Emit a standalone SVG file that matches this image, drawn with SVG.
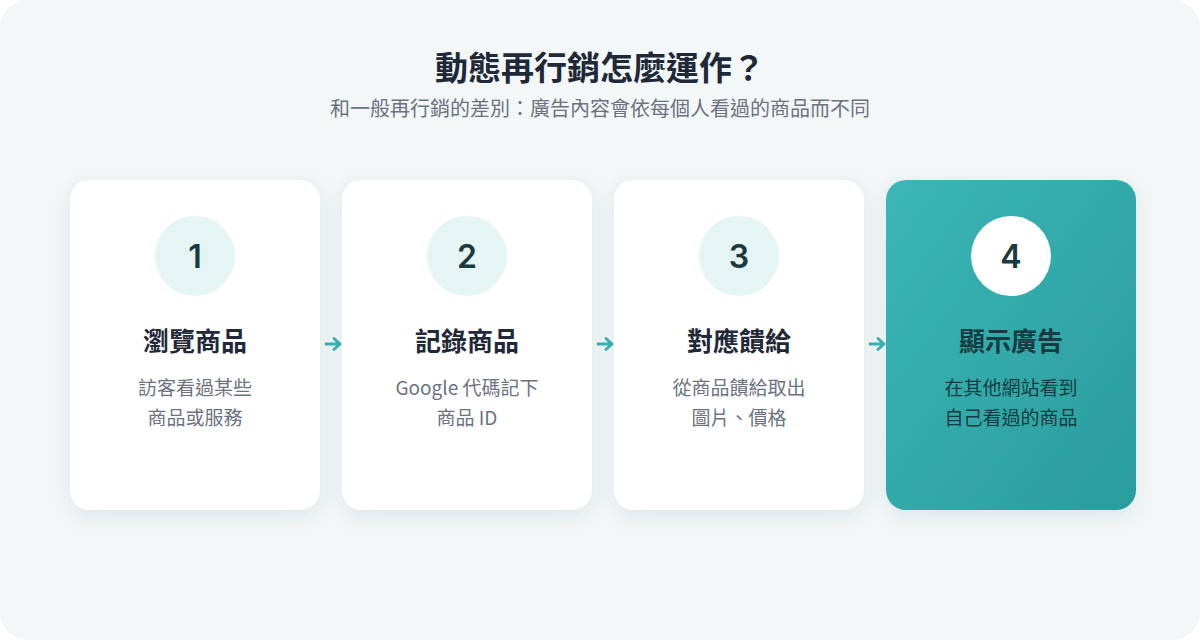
<svg xmlns="http://www.w3.org/2000/svg" width="1200" height="640" viewBox="0 0 1200 640">
<defs>
<style>
.t{font-family:"Noto Sans CJK TC","Noto Sans CJK SC",sans-serif;text-anchor:middle}
.title{font-size:33px;font-weight:700;fill:#1f2937}
.sub{font-size:20px;fill:#6b7280}
.num{font-family:Inter,"Liberation Sans",sans-serif;font-size:32px;font-weight:600;fill:#1b3a40;text-anchor:middle}
.h{font-size:26px;font-weight:700;fill:#1f2937}
.d{font-size:19px;fill:#6b7280}
.card{fill:#ffffff}
.circ{fill:#e5f5f4}
.arr{fill:none;stroke:#3ab3b5;stroke-width:3;stroke-linecap:round;stroke-linejoin:round}
</style>
<filter id="sh" x="-20%" y="-20%" width="140%" height="140%">
<feDropShadow dx="0" dy="6" stdDeviation="10" flood-color="#1b4a4f" flood-opacity="0.10"/>
</filter>
<linearGradient id="g4" x1="0" y1="0" x2="1" y2="1">
<stop offset="0" stop-color="#3bb6b6"/>
<stop offset="1" stop-color="#2a9c9d"/>
</linearGradient>
</defs>
<rect x="0" y="0" width="1200" height="640" fill="#ffffff"/>
<rect x="0" y="0" width="1200" height="640" rx="28" fill="#f3f7f8"/>
<text class="t title" x="600" y="80">動態再行銷怎麼運作？</text>
<text class="t sub" x="600" y="116">和一般再行銷的差別：廣告內容會依每個人看過的商品而不同</text>
<g id="connectors">
<path class="arr" d="M326 344 H339 M334 338.5 L340 344 L334 349.5"/>
<path class="arr" d="M598 344 H611 M606 338.5 L612 344 L606 349.5"/>
<path class="arr" d="M870 344 H883 M878 338.5 L884 344 L878 349.5"/>
</g>
<g id="step1">
<rect class="card" x="70" y="180" width="250" height="330" rx="20" filter="url(#sh)"/>
<circle class="circ" cx="195" cy="256" r="40"/>
<text class="num" x="195" y="268">1</text>
<text class="t h" x="195" y="351">瀏覽商品</text>
<text class="t d" x="195" y="395">訪客看過某些</text>
<text class="t d" x="195" y="425">商品或服務</text>
</g>
<g id="step2">
<rect class="card" x="342" y="180" width="250" height="330" rx="20" filter="url(#sh)"/>
<circle class="circ" cx="467" cy="256" r="40"/>
<text class="num" x="467" y="268">2</text>
<text class="t h" x="467" y="351">記錄商品</text>
<text class="t d" x="467" y="395">Google 代碼記下</text>
<text class="t d" x="467" y="425">商品 ID</text>
</g>
<g id="step3">
<rect class="card" x="614" y="180" width="250" height="330" rx="20" filter="url(#sh)"/>
<circle class="circ" cx="739" cy="256" r="40"/>
<text class="num" x="739" y="268">3</text>
<text class="t h" x="739" y="351">對應饋給</text>
<text class="t d" x="739" y="395">從商品饋給取出</text>
<text class="t d" x="739" y="425">圖片、價格</text>
</g>
<g id="step4">
<rect x="886" y="180" width="250" height="330" rx="20" fill="url(#g4)" filter="url(#sh)"/>
<circle cx="1011" cy="256" r="40" fill="#ffffff"/>
<text class="num" x="1011" y="268">4</text>
<text class="t h" x="1011" y="351" style="fill:#173b40">顯示廣告</text>
<text class="t d" x="1011" y="395" style="fill:#173b40">在其他網站看到</text>
<text class="t d" x="1011" y="425" style="fill:#173b40">自己看過的商品</text>
</g>
</svg>
